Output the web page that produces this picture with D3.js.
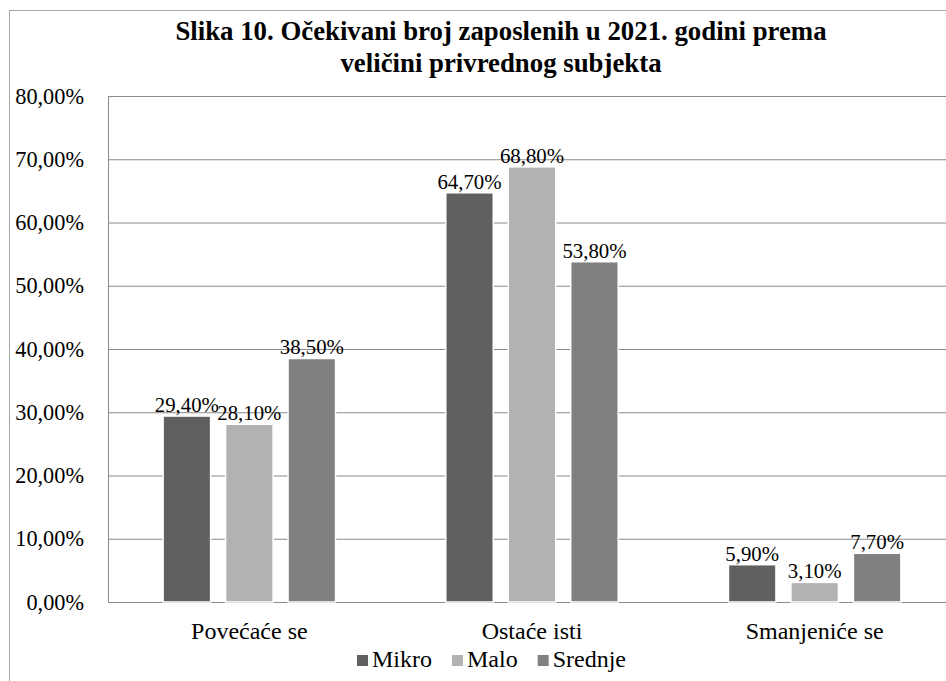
<!DOCTYPE html>
<html>
<head>
<meta charset="utf-8">
<script src="https://cdn.jsdelivr.net/npm/d3@7"></script>
<style>
    body { margin: 0; background: #fff; }
</style>
</head>
<body>
<div id="chart"></div>
<script>
//Datos
const categorias = ['Povećaće se', 'Ostaće isti', 'Smanjeniće se'];
const series = ['Mikro', 'Malo', 'Srednje'];
const mikro = [29.4, 64.7, 5.9];
const malo = [28.1, 68.8, 3.1];
const srednje = [38.5, 53.8, 7.7];
const yTicks = [0, 10, 20, 30, 40, 50, 60, 70, 80];
const titulo = ['Slika 10. Očekivani broj zaposlenih u 2021. godini prema', 'veličini privrednog subjekta'];

const FONT = "'Liberation Serif', 'Times New Roman', 'DejaVu Serif', serif";
const COLOR_MIKRO = '#606060',
COLOR_MALO = '#b2b2b2',
COLOR_SREDNJE = '#808080',
COLOR_GRID = '#8a8a8a',
COLOR_FRAME = '#a6a6a6';

let valores = [mikro, malo, srednje];
let data = categorias.map(function(c, i) {
    let row = { cat: c };
    series.forEach(function(s, j) { row[s] = valores[j][i]; });
    return row;
});

//Formato con coma decimal
let locale = d3.formatLocale({ decimal: ',', thousands: '.', grouping: [3], currency: ['', ' €'] });
let pct = locale.format('.2%');

let width = 946, height = 681;
let margin = { top: 96, right: -10, bottom: 79, left: 108 };

let svg = d3.select('#chart')
    .append('svg')
    .attr('width', width)
    .attr('height', height)
    .attr('font-family', FONT);

//Marco del gráfico
svg.append('rect')
    .attr('x', 9.5)
    .attr('y', 10.5)
    .attr('width', 980)
    .attr('height', 720)
    .attr('fill', 'none')
    .attr('stroke', COLOR_FRAME);

//Título
svg.append('text')
    .attr('text-anchor', 'middle')
    .attr('font-weight', 'bold')
    .attr('font-size', 26.8)
    .selectAll('tspan')
    .data(titulo)
    .enter()
    .append('tspan')
    .attr('x', 501)
    .attr('y', function(d, i) { return 40 + i * 32; })
    .text(function(d) { return d; });

let x0 = d3.scaleBand()
    .domain(categorias)
    .range([margin.left, width - margin.right]);

let x1 = d3.scaleBand()
    .domain(series)
    .range([x0.bandwidth() * 0.195, x0.bandwidth() * 0.805])
    .paddingInner(0.24);

let y = d3.scaleLinear()
    .domain([0, 80])
    .range([height - margin.bottom, margin.top]);

let color = d3.scaleOrdinal()
    .domain(series)
    .range([COLOR_MIKRO, COLOR_MALO, COLOR_SREDNJE]);

//Eje Y con rejilla
let yAxis = svg.append('g')
    .attr('transform', 'translate(' + margin.left + ',0)')
    .call(d3.axisLeft(y)
        .tickValues(yTicks)
        .tickSize(-(x0.range()[1] - margin.left))
        .tickPadding(24)
        .tickFormat(function(d) { return pct(d / 100); }));
yAxis.attr('font-family', FONT).attr('font-size', 22.3);
yAxis.select('.domain').attr('stroke', COLOR_GRID);
yAxis.selectAll('.tick line').attr('stroke', COLOR_GRID);
yAxis.selectAll('.tick text').attr('fill', '#000');

//Eje X
let xAxis = svg.append('g')
    .attr('transform', 'translate(0,' + y(0) + ')')
    .call(d3.axisBottom(x0).tickSize(0).tickPadding(20));
xAxis.attr('font-family', FONT).attr('font-size', 24);
xAxis.select('.domain').attr('stroke', COLOR_GRID);
xAxis.selectAll('.tick text').attr('fill', '#000');

//Barras
let grupos = svg.append('g')
    .selectAll('g')
    .data(data)
    .enter()
    .append('g')
    .attr('transform', function(d) { return 'translate(' + x0(d.cat) + ',0)'; });

grupos.selectAll('rect')
    .data(function(d) { return series.map(function(s) { return { key: s, value: d[s] }; }); })
    .enter()
    .append('rect')
    .attr('x', function(d) { return x1(d.key); })
    .attr('y', function(d) { return y(d.value); })
    .attr('width', x1.bandwidth())
    .attr('height', function(d) { return y(0) - y(d.value); })
    .attr('fill', function(d) { return color(d.key); })
    .attr('stroke', '#fff')
    .attr('stroke-width', 1.5);

//Etiquetas
grupos.selectAll('.label')
    .data(function(d) { return series.map(function(s) { return { key: s, value: d[s] }; }); })
    .enter()
    .append('text')
    .attr('class', 'label')
    .attr('text-anchor', 'middle')
    .attr('font-size', 20.8)
    .attr('x', function(d) { return x1(d.key) + x1.bandwidth() / 2; })
    .attr('y', function(d) { return y(d.value) - 4; })
    .text(function(d) { return pct(d.value / 100); });

//Leyenda
let leyenda = svg.append('g');
let items = leyenda.selectAll('g')
    .data(series)
    .enter()
    .append('g');

items.append('rect')
    .attr('width', 11)
    .attr('height', 11)
    .attr('y', 655)
    .attr('fill', function(d) { return color(d); });

items.append('text')
    .attr('x', 15)
    .attr('y', 667)
    .attr('font-size', 24)
    .text(function(d) { return d; });

let offset = 0;
items.each(function() {
    let w = this.getBBox().width;
    d3.select(this).attr('transform', 'translate(' + offset + ',0)');
    offset += w + 20;
});
let totalW = offset - 20;
leyenda.attr('transform', 'translate(' + (491.5 - totalW / 2) + ',0)');
</script>
</body>
</html>
